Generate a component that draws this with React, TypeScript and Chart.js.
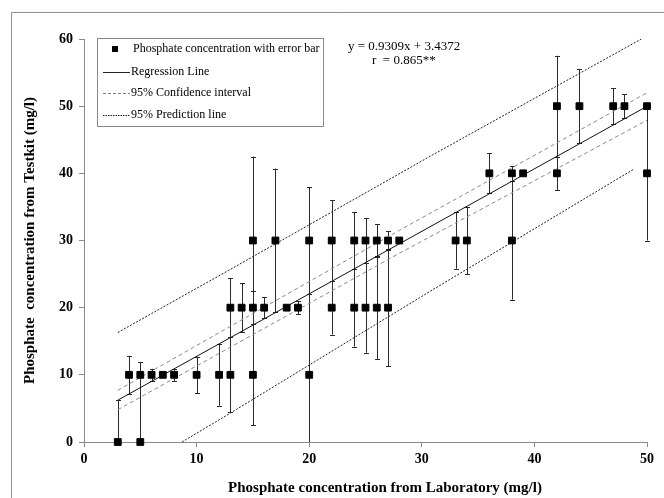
import React, { useEffect, useRef } from "react";
import { Chart, registerables } from "chart.js";

Chart.register(...registerables);

// ---- data ----
const labX = [3, 4, 5, 5, 6, 7, 8, 10, 12, 13, 13, 14, 15, 15, 15, 16, 17, 18, 19, 20, 20, 22, 22, 24, 24, 25, 25, 26, 26, 27, 27, 28, 33, 34, 36, 38, 38, 39, 42, 42, 44, 47, 48, 50, 50];
const kitY = [0, 10, 10, 0, 10, 10, 10, 10, 10, 10, 20, 20, 30, 20, 10, 20, 30, 20, 20, 30, 10, 30, 20, 30, 20, 30, 20, 30, 20, 30, 20, 30, 30, 30, 40, 40, 30, 40, 50, 40, 50, 50, 50, 50, 40];
const errUp = [6.2, 2.8, 0, 11.9, 0.9, 0, 0.9, 2.7, 4.6, 5.6, 4.4, 3.6, 12.5, 2.5, 7.5, 1.6, 10.7, 0, 1, 7.9, 12, 6, 4, 4.2, 5.8, 3.3, 6.7, 2.4, 7.7, 1.4, 8.7, 0, 4.2, 5, 3, 1.1, 8.8, 0, 7.5, 2.5, 5.5, 2.7, 1.8, 0, 10];
const errDown = [0, 2.8, 0, 0, 0.9, 0, 0.9, 2.7, 4.6, 5.6, 4.4, 3.6, 12.5, 2.5, 7.5, 1.6, 10.7, 0, 1, 8, 10, 6, 4, 4.2, 5.8, 3.3, 6.7, 2.4, 7.7, 1.4, 8.7, 0, 4.2, 5, 3, 1.1, 8.8, 0, 7.5, 2.5, 5.5, 2.7, 1.8, 0, 10];

const regX = [3, 50];
const regY = [6.23, 49.98];
const ciX = [3, 28, 50];
const ciUpper = [7.7, 31.5, 52.0];
const ciLower = [4.8, 28.1, 47.9];
const predUpperX = [3, 13, 30.7, 49.5];
const predUpperY = [16.3, 25.7, 42.5, 60];
const predLowerX = [8.7, 13, 30.7, 48.8];
const predLowerY = [0, 4.3, 22.4, 40.6];

const xTicks = [0, 10, 20, 30, 40, 50];
const yTicks = [0, 10, 20, 30, 40, 50, 60];

const legendLabels = [
  "Phosphate concentration with error bar",
  "Regression Line",
  "95% Confidence interval",
  "95% Prediction line",
];
const equationText = "y = 0.9309x + 3.4372";
const rText = "r  = 0.865**";
const xTitle = "Phosphate concentration from Laboratory (mg/l)";
const yTitle = "Phosphate  concentration from Testkit (mg/l)";

const SERIF = "'Liberation Serif', 'Times New Roman', serif";

const pairs = (xs: number[], ys: number[]) => xs.map((x, i) => ({ x, y: ys[i] }));

const framePlugin = {
  id: "frame",
  beforeDraw(chart: any) {
    const ctx = chart.ctx;
    ctx.save();
    ctx.fillStyle = "#ffffff";
    ctx.fillRect(0, 0, chart.width, chart.height);
    ctx.strokeStyle = "#8e8e8e";
    ctx.lineWidth = 1;
    ctx.beginPath();
    ctx.moveTo(11.5, chart.height);
    ctx.lineTo(11.5, 12.5);
    ctx.lineTo(chart.width, 12.5);
    ctx.stroke();
    ctx.restore();
  },
};

const errorBarPlugin = {
  id: "errorBars",
  beforeDatasetsDraw(chart: any) {
    const ctx = chart.ctx;
    const xs = chart.scales.x;
    const ys = chart.scales.y;
    ctx.save();
    ctx.strokeStyle = "#2b2b2b";
    ctx.lineWidth = 1;
    labX.forEach((xv, i) => {
      if (errUp[i] === 0 && errDown[i] === 0) return;
      const px = Math.round(xs.getPixelForValue(xv)) + 0.5;
      const top = ys.getPixelForValue(kitY[i] + errUp[i]);
      const bot = ys.getPixelForValue(kitY[i] - errDown[i]);
      ctx.beginPath();
      ctx.moveTo(px, top);
      ctx.lineTo(px, bot);
      if (errUp[i] > 0) {
        ctx.moveTo(px - 2.5, Math.round(top) + 0.5);
        ctx.lineTo(px + 2.5, Math.round(top) + 0.5);
      }
      if (errDown[i] > 0 && kitY[i] - errDown[i] > 0) {
        ctx.moveTo(px - 2.5, Math.round(bot) + 0.5);
        ctx.lineTo(px + 2.5, Math.round(bot) + 0.5);
      }
      ctx.stroke();
    });
    ctx.restore();
  },
};

const annotationPlugin = {
  id: "legendBox",
  afterDraw(chart: any) {
    const ctx = chart.ctx;
    ctx.save();
    // legend box
    ctx.strokeStyle = "#8a8a8a";
    ctx.lineWidth = 1;
    ctx.strokeRect(97.5, 38.5, 226, 88);
    ctx.fillStyle = "#000";
    ctx.font = `12px ${SERIF}`;
    ctx.textBaseline = "middle";
    ctx.textAlign = "left";
    const rows = [49, 72, 93, 115];
    // row 1: square marker
    ctx.fillRect(112, rows[0] - 3, 6, 6);
    ctx.fillText(legendLabels[0], 133, rows[0]);
    // row 2: solid
    ctx.strokeStyle = "#222";
    ctx.setLineDash([]);
    ctx.beginPath();
    ctx.moveTo(103, rows[1] + 0.5);
    ctx.lineTo(130, rows[1] + 0.5);
    ctx.stroke();
    ctx.fillText(legendLabels[1], 131, rows[1]);
    // row 3: dashed gray
    ctx.strokeStyle = "#7a7a7a";
    ctx.setLineDash([3, 2]);
    ctx.beginPath();
    ctx.moveTo(103, rows[2] + 0.5);
    ctx.lineTo(130, rows[2] + 0.5);
    ctx.stroke();
    ctx.fillText(legendLabels[2], 131, rows[2]);
    // row 4: dotted black
    ctx.strokeStyle = "#222";
    ctx.setLineDash([1.5, 1]);
    ctx.beginPath();
    ctx.moveTo(103, rows[3] + 0.5);
    ctx.lineTo(130, rows[3] + 0.5);
    ctx.stroke();
    ctx.fillText(legendLabels[3], 131, rows[3]);
    ctx.setLineDash([]);
    // equation
    ctx.font = `13px ${SERIF}`;
    ctx.fillText(equationText, 348, 47);
    ctx.fillText(rText, 372, 61);
    // x axis title (centred on the chart area as in the reference)
    ctx.font = `bold 15px ${SERIF}`;
    ctx.textAlign = "center";
    ctx.fillText(xTitle, 385, 488);
    ctx.restore();
  },
};

export default function App() {
  const ref = useRef<HTMLCanvasElement>(null);
  useEffect(() => {
    if (!ref.current) return;
    const tickFont = { family: SERIF, size: 14, weight: "bold" as const };
    const titleFont = { family: SERIF, size: 15, weight: "bold" as const };
    const chart = new Chart(ref.current, {
      type: "scatter",
      data: {
        datasets: [
          {
            label: legendLabels[0],
            data: pairs(labX, kitY),
            pointStyle: "rect",
            pointRadius: 4.8,
            backgroundColor: "#000",
            borderColor: "#000",
            borderWidth: 1,
            clip: false,
          } as any,
          {
            label: legendLabels[1],
            data: pairs(regX, regY),
            showLine: true,
            pointRadius: 0,
            borderColor: "#111",
            borderWidth: 1,
          },
          {
            label: legendLabels[2],
            data: pairs(ciX, ciUpper),
            showLine: true,
            pointRadius: 0,
            borderColor: "#8a8a8a",
            borderWidth: 1,
            borderDash: [4, 3],
          },
          {
            label: legendLabels[2],
            data: pairs(ciX, ciLower),
            showLine: true,
            pointRadius: 0,
            borderColor: "#8a8a8a",
            borderWidth: 1,
            borderDash: [4, 3],
          },
          {
            label: legendLabels[3],
            data: pairs(predUpperX, predUpperY),
            showLine: true,
            pointRadius: 0,
            borderColor: "#222",
            borderWidth: 1,
            borderDash: [2, 1.5],
          },
          {
            label: legendLabels[3],
            data: pairs(predLowerX, predLowerY),
            showLine: true,
            pointRadius: 0,
            borderColor: "#222",
            borderWidth: 1,
            borderDash: [2, 1.5],
          },
        ],
      },
      options: {
        responsive: false,
        animation: false,
        devicePixelRatio: 1,
        layout: { padding: { top: 39, right: 17, left: 0, bottom: 0 } },
        plugins: { legend: { display: false }, tooltip: { enabled: false } },
        scales: {
          x: {
            type: "linear",
            min: 0,
            max: 50,
            afterBuildTicks: (s: any) => {
              s.ticks = xTicks.map((v) => ({ value: v }));
            },
            afterFit: (s: any) => {
              s.height = 56;
            },
            grid: { drawOnChartArea: false, drawTicks: true, tickLength: 5, color: "#8a8a8a" },
            border: { color: "#8a8a8a", width: 1 },
            ticks: { font: tickFont, color: "#000", padding: 4, maxRotation: 0 },
            title: { display: false, text: xTitle },
          },
          y: {
            type: "linear",
            min: 0,
            max: 60,
            afterBuildTicks: (s: any) => {
              s.ticks = yTicks.map((v) => ({ value: v }));
            },
            afterFit: (s: any) => {
              s.width = 84;
            },
            grid: { drawOnChartArea: false, drawTicks: true, tickLength: 5, color: "#8a8a8a" },
            border: { color: "#8a8a8a", width: 1 },
            ticks: { font: tickFont, color: "#000", padding: 6 },
            title: {
              display: true,
              text: yTitle,
              font: titleFont,
              color: "#000",
              padding: { top: 21, bottom: 0 },
            },
          },
        },
      },
      plugins: [framePlugin, errorBarPlugin, annotationPlugin],
    });
    return () => chart.destroy();
  }, []);
  return (
    <div style={{ position: "absolute", left: 0, top: 0, width: 664, height: 498 }}>
      <canvas ref={ref} width={664} height={498} style={{ display: "block" }} />
    </div>
  );
}
